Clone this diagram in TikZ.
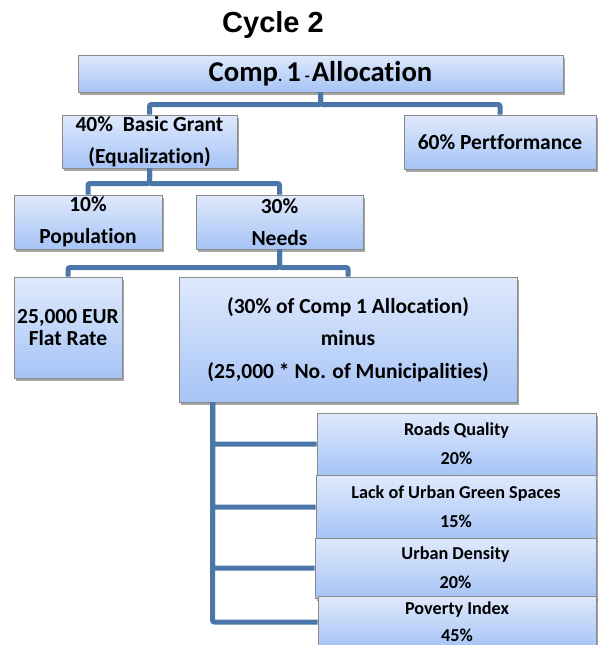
\documentclass[tikz,border=0pt]{standalone}
\usepackage{fontspec}
\setmainfont[Ligatures=NoCommon]{Carlito}
\newfontfamily\titlefont{Liberation Sans}
\usetikzlibrary{shadows,shadings}
\definecolor{conncol}{HTML}{4A76A9}
\definecolor{boxtop}{HTML}{DFE9FC}
\definecolor{boxbot}{HTML}{A6C4F6}
\definecolor{boxline}{HTML}{8A8A8A}
\tikzset{
  box/.style={draw=boxline, line width=1pt, top color=boxtop, bottom color=boxbot,
    rectangle, inner sep=0pt, align=center, font=\bfseries\fontsize{21.5}{32}\selectfont,
    drop shadow={shadow xshift=2pt, shadow yshift=-3pt, fill=black, opacity=.35}},
  smallbox/.style={box, font=\bfseries\fontsize{18.2}{29}\selectfont},
  conn/.style={draw=conncol, line width=5pt, rounded corners=2pt}
}
\begin{document}
\begin{tikzpicture}[x=1pt,y=-1pt]
\useasboundingbox (0,0) rectangle (600,645);
\node[font=\titlefont\bfseries\fontsize{29}{34}\selectfont] (title) at (273,25) {Cycle 2};
% top
\node[box, minimum width=485, minimum height=37, font=\bfseries\fontsize{28.7}{30}\selectfont] (comp) at (320.5,73.5) {Comp{\fontsize{16}{16}\selectfont.}\hspace{4pt}1\hspace{4pt}{\fontsize{16}{16}\selectfont-}\hspace{2pt}Allocation};
\node[box, minimum width=175, minimum height=53] (basic) at (149.5,141.5) {40\%\ \ Basic Grant\\(Equalization)};
\node[box, minimum width=192, minimum height=54] (perf) at (500,142) {60\% Pertformance};
\node[box, minimum width=148, minimum height=54] (pop) at (88,222) {10\%\\Population};
\node[box, minimum width=167, minimum height=54] (needs) at (279.5,222) {30\%\\Needs};
\node[box, minimum width=108, minimum height=101, font=\bfseries\fontsize{21.5}{22}\selectfont] (flat) at (68,327.5) {25,000 EUR\\Flat Rate};
\node[box, minimum width=338, minimum height=125, font=\bfseries\fontsize{21.5}{32.5}\selectfont] (big) at (348,339.5) {(30\% of Comp 1 Allocation)\\minus\\(25,000 * No. of Municipalities)};
\node[smallbox, minimum width=279, minimum height=62] (roads) at (456.5,444) {Roads Quality\\20\%};
\node[smallbox, minimum width=280, minimum height=63] (lack) at (456,507) {Lack of Urban Green Spaces\\15\%};
\node[smallbox, minimum width=281, minimum height=60] (dens) at (455.5,568) {Urban Density\\20\%};
\node[smallbox, minimum width=278, minimum height=52, font=\bfseries\fontsize{18.2}{27}\selectfont] (pov) at (457,622) {Poverty Index\\45\%};
% connectors
\draw[conn] (comp.south) -- ++(0,12) -| (basic.north);
\draw[conn] (comp.south) -- ++(0,12) -| (perf.north);
\draw[conn] (basic.south) -- ++(0,15) -| (pop.north);
\draw[conn] (basic.south) -- ++(0,15) -| (needs.north);
\draw[conn] (needs.south) -- ++(0,18) -| (flat.north);
\draw[conn] (needs.south) -- ++(0,18) -| (big.north);
\coordinate (bigout) at ([xshift=34pt]big.south west);
\draw[conn] (bigout) |- (roads.west);
\draw[conn] (bigout) |- (lack.west);
\draw[conn] (bigout) |- (dens.west);
\draw[conn] (bigout) |- (pov.west);
\end{tikzpicture}
\end{document}
